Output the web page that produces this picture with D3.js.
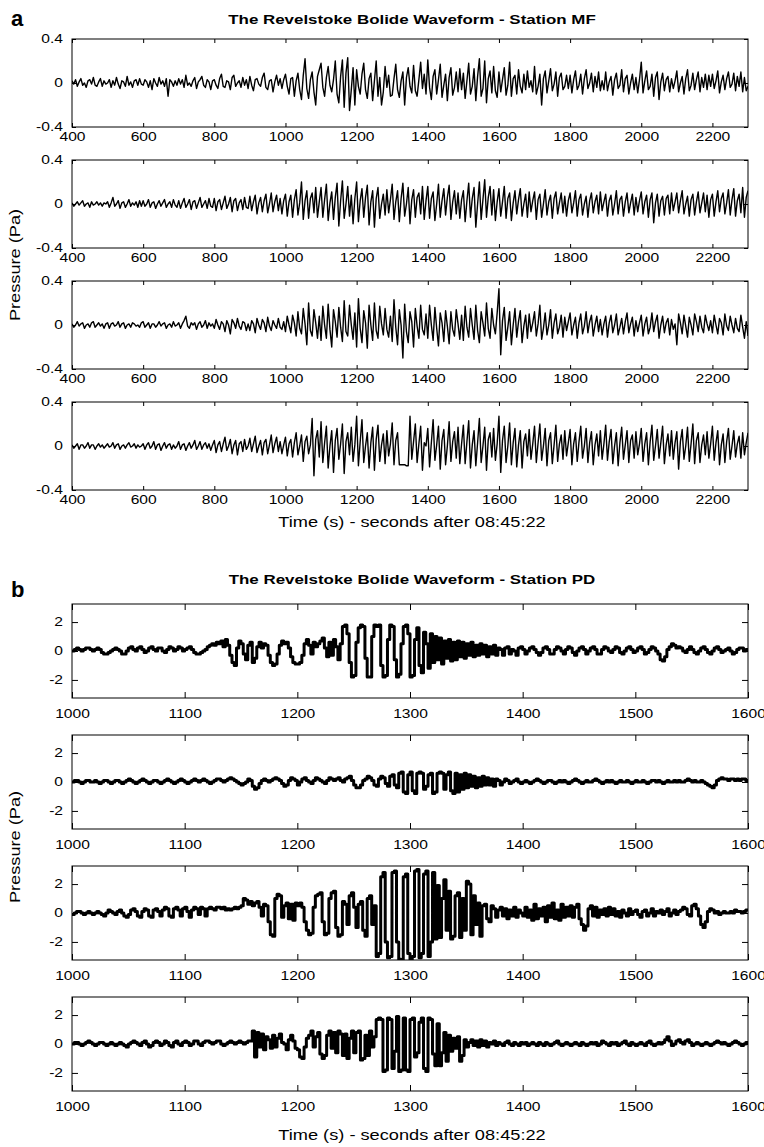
<!DOCTYPE html>
<html>
<head>
<meta charset="utf-8">
<script src="https://cdn.jsdelivr.net/npm/d3@7"></script>
<style>
  body { margin: 0; background: #fff; }
  text { font-family: "Liberation Sans", Arial, sans-serif; fill: #000; }
</style>
</head>
<body>
<svg id="chart" width="764" height="1147"></svg>
<script>
// ---- station MF, 400..2300 s, one value every 5 s, in 0.01 Pa ----
const mfTicks = [400, 600, 800, 1000, 1200, 1400, 1600, 1800, 2000, 2200];
const mfYTicks = [-0.4, 0, 0.4];
const mf1 = [
  2,-1,3,-3,1,4,-2,0,-4,2, 3,-1,5,-2,-3,1,4,-3,2,-1,
  0,3,-4,2,-2,5,-1,-5,2,1, -3,6,-2,1,-4,2,3,-2,4,-1,
  -2,3,1,-4,2,-6,4,0,-3,5, -1,2,-3,4,-12,3,1,-3,2,-2,
  4,-1,3,-4,7,-2,0,-3,2,5, -5,1,3,6,-2,-4,3,1,-6,2,
  3,-2,-5,4,8,-3,-4,2,1,-6, 5,7,-3,0,2,-4,5,-2,3,-5,
  6,-2,-7,3,4,-1,-3,5,9,-4, -6,2,3,-8,1,7,-2,4,-5,3,
  8,-3,-10,4,5,-12,2,9,-6,-15, 7,22,-5,-14,3,10,-8,-20,6,12,
  18,-4,-12,5,15,-2,-8,3,20,-10, -18,6,21,-22,9,23,-25,-6,14,-20,
  12,-3,-10,8,18,-6,-14,4,9,-16, 2,20,-12,5,-20,-8,15,-4,7,-12,
  -11,4,17,-6,-13,2,10,-20,5,14, -3,-9,16,-7,-12,3,19,-5,8,-10,
  21,-4,-15,6,12,-10,3,17,-13,-2, 8,-16,5,14,-11,-4,10,-8,13,-6,
  9,-14,2,18,-10,-3,13,-16,6,22, -12,-5,20,-18,4,11,-9,15,-7,-13,
  10,-8,3,14,-11,-2,19,-12,4,7, -10,12,-3,-9,8,-6,11,-4,2,-8,
  15,-10,-3,8,-20,4,11,-9,2,13, -7,-1,10,-12,5,9,-6,-3,7,-5,
  7,-9,3,11,-6,-2,8,-10,4,12, -5,0,9,-8,6,-4,10,-7,2,-6,
  10,-7,1,6,-11,3,9,-5,-2,12, -8,4,7,-10,0,8,-6,5,-9,3,
  19,-9,2,11,-6,-3,8,-12,5,10, -15,1,9,-7,3,6,-8,4,-5,2,
  11,-8,0,6,-10,4,12,-7,-2,9, -6,3,10,-8,5,-4,8,-6,7,-3,
  8,-5,2,11,-9,1,7,-6,4,10, -4,-1,9,-7,6,-3,10,-8,5,-7,
  -3
];
const mf2 = [
  1,-2,0,2,-1,1,3,-2,0,1, -3,2,-1,0,2,-1,1,-2,1,0,
  2,-3,1,6,-2,0,3,-4,1,2, -3,0,4,-2,1,-1,2,-3,3,-2,
  3,-2,0,4,-3,1,2,-4,0,3, -2,1,4,-3,0,2,-3,4,-1,-3,
  3,-4,1,5,-3,0,4,-5,2,3, -4,1,6,-3,0,3,-4,5,-2,-3,
  5,-6,2,4,-5,1,7,-4,0,6, -7,3,5,-6,1,4,-5,6,-3,-4,
  7,-6,2,8,-9,1,6,-7,3,9, -8,0,10,-7,2,8,-6,5,-9,3,
  9,-11,2,8,-12,4,13,-10,1,20, -14,3,12,-13,5,10,-8,15,-12,2,
  15,-12,4,18,-15,1,11,-14,6,19, -20,3,21,-13,0,16,-11,8,-18,5,
  20,-16,3,14,-12,6,17,-19,2,12, -21,5,15,-13,0,9,-10,13,-8,4,
  18,-14,2,12,-16,5,19,-11,0,15, -18,4,13,-12,6,10,-9,16,-14,3,
  16,-13,5,11,-15,0,18,-12,3,14, -10,6,17,-14,2,12,-9,10,-13,4,
  12,-16,3,19,-12,5,15,-21,0,20, -14,4,22,-12,6,16,-10,13,-15,2,
  14,-11,2,16,-13,5,10,-15,1,12, -9,4,14,-11,0,9,-12,11,-7,3,
  11,-14,4,9,-12,0,13,-10,2,8, -13,5,11,-9,1,10,-8,7,-11,3,
  10,-8,1,12,-11,4,9,-10,0,7, -12,3,10,-8,2,8,-9,11,-6,2,
  9,-11,3,8,-10,0,12,-9,4,7, -11,2,10,-8,1,9,-10,6,-7,3,
  11,-9,2,8,-12,4,10,-17,1,9, -11,3,7,-10,5,8,-9,10,-6,2,
  10,-8,3,12,-9,0,7,-11,4,9, -10,2,11,-8,1,10,-7,8,-12,4,
  9,-11,2,12,-7,5,10,-9,1,13, -10,4,14,-11,3,9,-8,15,-12,6,
  12
];
const mf3 = [
  1,-2,0,3,-1,1,2,-3,0,1, -2,2,3,-2,0,2,-1,1,-3,1,
  2,-3,1,2,-1,0,3,-2,1,2, -3,0,1,-2,2,1,-1,0,-2,2,
  3,-2,0,2,-3,1,1,-2,0,3, -1,1,2,-3,0,1,-2,3,-1,0,
  2,-3,1,4,8,-1,-3,2,0,2, -4,1,3,-2,0,4,-3,2,-1,1,
  -3,5,0,-4,3,1,-6,4,0,-8, 5,2,-3,6,-1,-4,3,2,-5,1,
  -5,4,1,-7,6,0,-4,5,2,-6, 7,-1,-5,4,0,-3,6,-2,-4,3,
  -6,8,0,-7,9,2,-10,12,-3,-8, 15,1,-18,20,-5,-10,14,2,-12,8,
  -14,17,0,-12,19,-4,-20,14,3,-11, 16,-2,-15,22,-6,-10,18,0,-13,11,
  -20,24,-3,-16,13,2,-21,18,0,-14, 20,-5,-12,17,1,-9,15,-4,-11,8,
  -15,23,-2,-18,14,0,-30,19,-6,-16, 12,3,-20,15,-1,-12,18,-4,-9,10,
  -12,18,0,-14,16,-3,-19,11,2,-15, 13,-1,-17,12,-4,-10,14,1,-13,9,
  -14,17,-2,-11,15,0,-13,18,-5,-16, 12,2,-10,20,-3,-12,15,0,-8,11,
  33,-27,4,16,-14,-2,12,-18,0,15, -11,3,13,-16,-1,9,-12,10,-6,2,
  12,-10,1,18,-13,-3,11,-9,0,14, -12,2,10,-8,-2,9,-11,7,-5,3,
  11,-9,0,7,-12,2,10,-8,-1,12, -7,3,9,-10,0,8,-6,5,-9,1,
  8,-11,2,9,-7,0,10,-9,-2,6, -8,3,11,-7,1,7,-10,4,-6,2,
  9,-10,1,7,-8,-2,11,-6,3,9, -12,0,8,-7,2,6,-9,5,-4,1,
  -18,10,2,-8,9,-1,-11,7,0,-9, 10,3,-6,8,-2,-7,9,1,-5,4,
  -7,9,0,-8,6,2,-9,10,-1,-5, 8,0,-7,6,-3,-6,9,-2,-12,3,
  -10
];
const mf4 = [
  1,-2,0,2,-3,1,1,-2,0,3, -2,1,1,-3,0,2,-1,1,-2,0,
  2,-1,0,3,-2,1,2,-3,0,1, -2,1,3,-1,0,2,-2,1,-1,0,
  2,-3,1,3,-2,0,4,-3,1,2, -4,0,3,-2,1,2,-3,1,-2,0,
  4,-3,1,2,-4,0,3,-2,1,5, -3,0,4,-3,1,3,-2,2,-4,1,
  5,-6,1,4,-5,2,8,-4,0,6, -7,1,5,-8,2,4,-5,6,-3,0,
  7,-5,2,9,-6,0,5,-8,3,6, -7,1,10,-6,2,8,-5,4,-7,1,
  8,-9,2,6,-10,3,12,-8,0,10, -14,4,9,-7,1,25,-27,6,14,-10,
  22,-15,3,18,-20,0,14,-24,5,16, -12,2,20,-25,4,12,-8,17,-14,1,
  27,-18,4,24,-15,0,12,-20,3,17, -22,6,19,-14,1,11,-16,14,-9,2,
  21,-17,5,12,-17,-17,-17,-17,-18,-18, 27,-12,4,20,-15,2,18,-22,3,0,
  16,-19,3,24,-13,1,18,-21,5,15, -17,0,22,-14,4,13,-11,17,-16,2,
  19,-16,4,23,-20,1,14,-18,3,25, -15,0,17,-22,6,12,-10,16,-13,2,
  27,-24,5,18,-15,0,21,-17,3,16, -19,1,14,-20,4,11,-9,15,-12,2,
  18,-15,3,20,-13,0,16,-18,5,12, -16,1,19,-14,2,10,-12,14,-9,3,
  15,-17,2,12,-14,4,18,-11,0,16, -15,3,13,-17,1,11,-9,14,-12,2,
  19,-13,4,15,-16,0,12,-18,3,17, -12,1,14,-15,5,10,-11,13,-8,2,
  16,-14,2,12,-17,4,19,-13,0,15, -11,3,18,-16,1,11,-9,14,-12,3,
  13,-21,4,15,-12,0,17,-14,2,20, -16,5,12,-15,1,10,-8,13,-11,2,
  18,-13,3,14,-17,1,11,-15,4,16, -12,0,14,-10,2,9,-11,12,-8,3,
  12
];

// ---- station PD, 1000..1600 s, one value every 2 s, in 0.1 Pa ----
const pdTicks = [1000, 1100, 1200, 1300, 1400, 1500, 1600];
const pdYTicks = [-2, 0, 2];
const pd1 = [
  0,1,2,1,0,1,2,2,1,0,
  1,2,1,-1,-2,-2,-1,0,1,2,
  1,0,-2,-2,0,2,3,1,0,2,
  3,1,-1,0,2,3,1,0,2,2,
  0,-1,1,3,2,0,1,3,2,0,
  1,2,3,1,-1,-2,-2,-1,0,1,
  3,4,5,4,6,5,7,3,8,4,
  -3,-8,-10,2,7,5,-2,-6,4,6,
  -8,-5,3,6,2,5,4,-3,-8,-10,
  -9,-2,4,7,5,6,2,-4,-8,-9,
  -9,-8,-3,5,8,4,-2,6,3,5,
  7,9,2,-4,6,-3,8,3,-6,5,
  17,18,12,-8,-18,-17,6,16,18,17,
  -5,-18,-18,10,18,17,18,-10,-18,-17,
  8,18,17,-6,-18,-16,5,17,18,12,
  -18,-17,8,16,-10,-15,13,5,-12,12,
  -8,10,-6,9,-9,7,-5,8,-7,6,
  -6,7,-4,6,-5,5,-3,6,-4,4,
  -3,5,-2,4,-4,3,-2,4,-3,2,
  1,-3,2,3,-2,1,0,-3,2,3,
  1,-2,0,2,3,1,-1,-3,-1,2,
  3,1,-2,-2,1,3,2,0,-2,1,
  3,2,-1,-3,0,2,3,1,-2,0,
  2,3,1,-2,-2,1,3,2,0,-1,
  1,3,2,-1,-2,0,2,3,1,-1,
  0,2,3,1,-2,-1,1,3,2,0,
  -2,-6,-7,-4,1,3,5,4,2,3,
  2,0,-1,1,3,1,-1,-2,0,2,
  3,1,-1,-2,0,2,3,1,-1,0,
  1,2,0,-2,-1,1,2,2,0,1,
  0
];
const pd2 = [
  0,1,1,0,-1,0,1,1,0,0,
  1,0,-1,0,1,1,0,-1,0,1,
  1,0,-1,0,1,2,1,0,-1,0,
  1,2,1,0,-1,0,1,1,0,-1,
  0,1,2,1,0,-1,0,1,2,1,
  0,-1,0,1,2,1,0,1,2,1,
  0,-1,0,1,2,2,1,0,1,2,
  3,2,1,0,-1,-2,-1,0,2,1,
  -3,-5,-4,-1,1,2,1,0,1,2,
  3,2,1,-1,-3,-2,1,3,2,1,
  -2,0,2,3,1,0,-1,1,3,2,
  1,0,-1,1,3,2,1,2,3,1,
  0,2,3,4,1,-2,-4,-4,-2,1,
  2,4,3,1,-2,-3,2,4,3,-1,
  -3,4,5,-2,-4,6,7,-7,-8,5,
  7,-6,-8,6,7,6,-5,-3,5,6,
  -8,-7,6,7,6,-5,5,7,-6,-8,
  6,-7,5,-5,6,-4,5,-3,4,-4,
  3,-3,4,-2,3,-2,2,-3,2,1,
  -2,0,2,1,-1,0,1,2,0,-1,
  0,1,0,-1,0,1,2,1,0,-1,
  0,1,1,0,-1,0,1,0,1,0,
  -1,0,1,2,1,0,-1,0,1,0,
  0,1,2,1,0,-1,0,1,0,1,
  0,-1,0,1,0,0,1,0,-1,0,
  1,0,0,1,0,-1,0,1,1,0,
  1,0,-1,0,1,0,0,1,0,1,
  0,0,1,2,1,0,1,0,0,1,
  0,-1,-2,-3,-4,-2,1,2,3,2,
  2,1,2,2,1,2,1,2,2,1,
  1
];
const pd3 = [
  -1,0,1,1,0,-1,0,1,0,-1,
  0,1,0,-1,-2,0,2,1,0,-1,
  1,2,0,-2,-3,-1,2,3,1,-2,
  -3,1,3,2,-2,-3,2,3,1,-2,
  2,4,3,-2,-3,3,4,2,-2,3,
  4,1,-3,2,4,3,-1,4,3,-2,
  3,4,3,2,4,4,3,4,2,3,
  2,3,4,3,4,5,10,9,6,8,
  5,7,8,4,-2,6,5,-6,-15,-16,
  10,13,12,-3,5,7,-4,6,-5,7,
  5,7,4,-6,-12,-15,-14,4,12,13,
  14,-6,-15,-14,10,14,15,-10,-16,-15,
  8,6,-8,12,14,4,-10,6,8,-12,
  -16,10,12,-8,5,-30,-28,25,28,-20,
  -31,-30,28,29,-20,-32,-33,25,27,-28,
  -32,-30,29,30,-31,-28,27,29,-30,-20,
  28,-18,19,-17,10,23,-12,15,-18,-16,
  12,14,-17,10,-12,22,20,-15,12,-8,
  7,-16,5,6,-4,-6,5,3,-3,2,
  4,-2,3,-4,2,-2,4,-3,2,0,
  -2,4,-3,2,-5,6,-4,3,-2,4,
  -6,5,-3,7,-4,2,-5,6,-3,4,
  -2,5,-3,4,6,-4,-8,-12,-9,3,
  5,-2,4,-3,2,-1,3,-2,4,-1,
  3,-2,1,-3,2,0,-2,3,-1,1,
  2,-1,-3,1,2,-2,0,3,-2,1,
  0,2,-1,1,3,-2,0,2,-1,1,
  2,4,3,-1,-2,5,6,3,-2,-8,
  -10,-6,1,3,2,0,1,-1,0,1,
  0,0,1,0,2,1,1,0,1,2,
  2
];
const pd4 = [
  0,1,1,0,-1,0,1,2,1,0,
  -1,0,1,1,0,-1,0,1,0,-1,
  0,1,0,-1,-2,0,1,2,1,0,
  -1,1,2,0,-2,-1,1,2,1,-1,
  0,2,1,-1,-2,1,2,0,-1,1,
  2,1,-1,0,2,2,0,-1,1,2,
  2,1,0,1,2,2,0,-1,0,1,
  2,1,0,1,2,1,0,1,2,2,
  9,-9,8,-2,7,-4,5,3,-3,6,
  -2,4,7,1,0,-4,3,6,2,-3,
  -4,-9,-10,-2,4,6,9,-2,5,8,
  -7,-10,-8,6,9,-3,8,-6,9,7,
  -8,7,-10,4,9,-6,8,9,-11,-10,
  6,-8,9,-2,5,17,18,17,-19,-18,
  18,17,-17,-5,19,-19,-18,18,-18,-19,
  17,18,-9,-6,15,18,-17,-19,18,17,
  -7,-15,14,-15,-6,8,-12,6,-5,4,
  -3,5,-12,-8,3,-2,1,3,-1,2,
  -2,3,-1,2,-2,1,0,2,-1,1,
  0,-1,1,2,0,-1,1,0,-1,1,
  0,1,-1,0,1,0,-1,1,0,-1,
  1,0,-1,0,1,2,0,-1,0,1,
  0,-1,0,1,0,-1,1,0,-1,0,
  1,0,1,-1,0,2,1,0,-1,1,
  0,1,-1,0,1,2,0,-1,1,0,
  -1,0,1,0,-1,1,2,0,-1,0,
  1,0,1,3,5,2,-1,0,2,3,
  1,0,2,3,1,-1,0,1,0,-1,
  0,1,0,-1,0,1,2,1,0,1,
  0,-1,0,1,2,1,0,-1,0,1,
  0
];

const svg = d3.select('#chart');
const left = 72, right = 748;
const stretch = 1.3;   // the scanned figure's lettering is wide

function wide(sel) {
  sel.each(function () {
    const n = this.getComputedTextLength();
    d3.select(this).attr('textLength', n * stretch).attr('lengthAdjust', 'spacingAndGlyphs');
  });
}

function fmt(d) {
  if (d === 0) return '0';
  const s = Number.isInteger(d) ? String(Math.abs(d)) : Math.abs(d).toFixed(1);
  return (d < 0 ? '-' : '') + s;
}

let clipId = 0;
function drawTrace(cfg, values, top) {
  const h = cfg.height;
  const x = d3.scaleLinear().domain(cfg.xDomain).range([left, right]);
  const y = d3.scaleLinear().domain(cfg.yDomain).range([h, 0]);
  const g = svg.append('g').attr('transform', `translate(0,${top})`);
  const n = values.length;
  const t0 = cfg.xDomain[0], span = cfg.xDomain[1] - cfg.xDomain[0];

  const id = 'clip' + (clipId++);
  g.append('clipPath').attr('id', id)
    .append('rect').attr('x', left).attr('y', 0).attr('width', right - left).attr('height', h);

  const line = d3.line()
    .x((d, i) => x(t0 + span * i / (n - 1)))
    .y(d => y(d * cfg.unit))
    .curve(cfg.curve);

  g.append('path')
    .attr('clip-path', `url(#${id})`)
    .attr('d', line(values))
    .attr('fill', 'none')
    .attr('stroke', '#000')
    .attr('stroke-width', cfg.lineWidth)
    .attr('stroke-linejoin', 'round');

  const tl = cfg.tickLen;
  const bottom = g.append('g').attr('transform', `translate(0,${h})`)
    .call(d3.axisBottom(x).tickValues(cfg.xTicks).tickSize(-tl).tickPadding(cfg.xPad).tickFormat(fmt));
  g.append('g')
    .call(d3.axisTop(x).tickValues(cfg.xTicks).tickSize(-tl).tickFormat(''));
  const leftAx = g.append('g').attr('transform', `translate(${left},0)`)
    .call(d3.axisLeft(y).tickValues(cfg.yTicks).tickSize(-tl).tickPadding(9).tickFormat(fmt));
  g.append('g').attr('transform', `translate(${right},0)`)
    .call(d3.axisRight(y).tickValues(cfg.yTicks).tickSize(-tl).tickFormat(''));

  g.selectAll('.domain').remove();
  g.selectAll('.tick line').attr('stroke', '#000');
  g.selectAll('.tick text').attr('font-size', 12).attr('font-family', '"Liberation Sans", Arial, sans-serif');
  wide(bottom.selectAll('.tick text'));
  wide(leftAx.selectAll('.tick text'));

  g.append('rect')
    .attr('x', left).attr('y', 0).attr('width', right - left).attr('height', h)
    .attr('fill', 'none').attr('stroke', '#000').attr('stroke-width', 1);
}

function label(txt, x, y, opts) {
  const t = svg.append('text').attr('x', x).attr('y', y).text(txt)
    .attr('text-anchor', 'middle')
    .attr('font-size', opts.size)
    .attr('font-weight', opts.bold ? 'bold' : 'normal');
  if (opts.rotate) t.attr('transform', `rotate(-90,${x},${y})`);
  wide(t);
  return t;
}

// ---- panel a ----
const cfgA = {
  xDomain: [400, 2300], yDomain: [-0.4, 0.4], xTicks: mfTicks, yTicks: mfYTicks,
  height: 88, unit: 0.01, curve: d3.curveLinear, lineWidth: 1.4, tickLen: 4, xPad: 5
};
const topsA = [39, 160, 281, 402];
[mf1, mf2, mf3, mf4].forEach((s, i) => drawTrace(cfgA, s, topsA[i]));

svg.append('text').attr('x', 11).attr('y', 26).text('a')
  .attr('font-family', '"Liberation Serif", "Times New Roman", serif')
  .attr('font-weight', 'bold').attr('font-size', 22);
label('The Revelstoke Bolide Waveform - Station MF', 412, 24, { size: 13, bold: true });
label('Pressure (Pa)', 20, 265, { size: 14, rotate: true });
label('Time (s) - seconds after 08:45:22', 412, 527, { size: 14 });

// ---- panel b ----
const cfgB = {
  xDomain: [1000, 1600], yDomain: [-3.25, 3.25], xTicks: pdTicks, yTicks: pdYTicks,
  height: 94, unit: 0.1, curve: d3.curveStepAfter, lineWidth: 3, tickLen: 6, xPad: 11
};
const topsB = [604, 735, 866, 997];
[pd1, pd2, pd3, pd4].forEach((s, i) => drawTrace(cfgB, s, topsB[i]));

svg.append('text').attr('x', 11).attr('y', 597).text('b')
  .attr('font-family', '"Liberation Serif", "Times New Roman", serif')
  .attr('font-weight', 'bold').attr('font-size', 22);
label('The Revelstoke Bolide Waveform - Station PD', 412, 584, { size: 13, bold: true });
label('Pressure (Pa)', 20, 847, { size: 14, rotate: true });
label('Time (s) - seconds after 08:45:22', 412, 1140, { size: 14 });
</script>
</body>
</html>
